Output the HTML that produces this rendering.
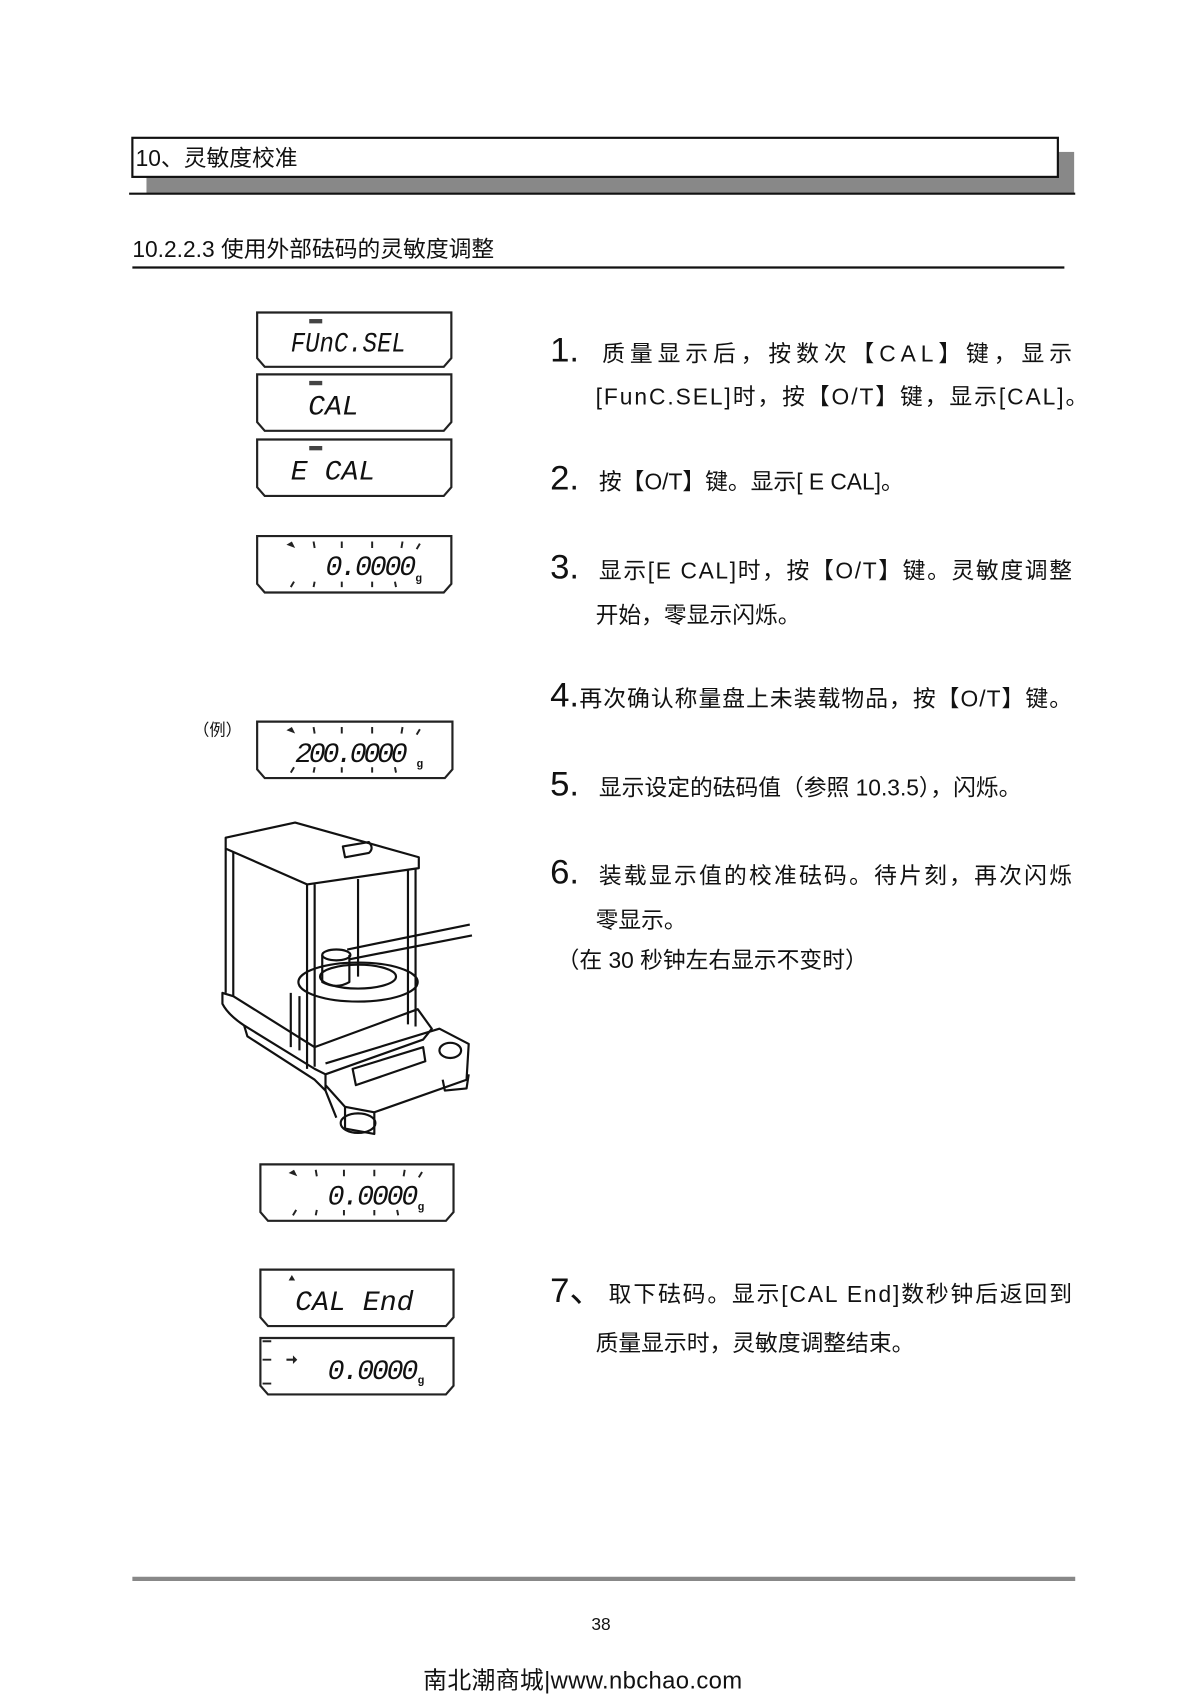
<!DOCTYPE html>
<html><head><meta charset="utf-8"><style>
html,body{margin:0;padding:0;background:#fff;}
svg{display:block;}
text{font-family:"Liberation Sans","Noto Sans CJK SC",sans-serif;fill:#111;}
.seg{font-family:"Liberation Mono",monospace;font-style:italic;}
</style></head><body>
<svg width="1200" height="1695" viewBox="0 0 1106 1562" preserveAspectRatio="none" xmlns="http://www.w3.org/2000/svg">
<!-- header -->
<rect x="135" y="140" width="855" height="38" fill="#888"/>
<rect x="122" y="127" width="853" height="36" fill="#fff" stroke="#111" stroke-width="2"/>
<text x="125" y="153" font-size="21">10、灵敏度校准</text>
<line x1="119" y1="178.5" x2="991" y2="178.5" stroke="#111" stroke-width="2"/>
<text x="122" y="237" font-size="21">10.2.2.3 使用外部砝码的灵敏度调整</text>
<line x1="122" y1="246.5" x2="981" y2="246.5" stroke="#111" stroke-width="2"/>

<!-- LCD boxes -->
<g fill="#fff" stroke="#222" stroke-width="2">
<path d="M237,288 H416 V330 L409,338 H244 L237,330 Z"/>
<path d="M237,345 H416 V389 L409,397 H244 L237,389 Z"/>
<path d="M237,405 H416 V449 L409,457 H244 L237,449 Z"/>
<path d="M237,494 H416 V538 L409,546 H244 L237,538 Z"/>
<path d="M237,665 H417 V709 L410,717 H244 L237,709 Z"/>
<path d="M240,1073 H418 V1117 L411,1125 H247 L240,1117 Z"/>
<path d="M240,1170 H418 V1214 L411,1222 H247 L240,1214 Z"/>
<path d="M240,1233 H418 V1277 L411,1285 H247 L240,1277 Z"/>
</g>
<g fill="#444"><rect x="285" y="294" width="12" height="4"/><rect x="285" y="351" width="12" height="4"/><rect x="285" y="411" width="12" height="4"/></g>
<text class="seg" x="268" y="324" font-size="26" transform="translate(268,0) scale(0.85,1) translate(-268,0)">FUnC.SEL</text>
<text class="seg" x="284" y="382" font-size="26">CAL</text>
<text class="seg" x="268" y="442" font-size="26">E CAL</text>
<text class="seg" x="300" y="530" font-size="26" letter-spacing="-2">0.0000</text>
<text x="383" y="536" font-size="10" font-weight="bold">g</text>
<text class="seg" x="272" y="702" font-size="26" letter-spacing="-3">200.0000</text>
<text x="384" y="707" font-size="10" font-weight="bold">g</text>
<text class="seg" x="302" y="1110" font-size="26" letter-spacing="-2">0.0000</text>
<text x="385" y="1115" font-size="10" font-weight="bold">g</text>
<text class="seg" x="272" y="1207" font-size="26">CAL End</text>
<text class="seg" x="302" y="1271" font-size="26" letter-spacing="-2">0.0000</text>
<text x="385" y="1275" font-size="10" font-weight="bold">g</text>
<g fill="#222"><path d="M264,502 l5,-3 l3,6 z"/><path d="M264,673 l5,-3 l3,6 z"/><path d="M266,1081 l5,-3 l3,6 z"/><path d="M266,1180 l3,-5 l3,5 z"/><path d="M264,1252 h6 v-3 l4,4 l-4,4 v-3 h-6 z"/></g>
<g stroke="#222" stroke-width="1.8">
<path d="M289,499 l1,6 M315,499 v6 M343,499 v6 M371,499 l-1,6 M387,501 l-3,5 M268,541 l3,-5 M289,541 l1,-5 M315,541 v-5 M343,541 v-5 M365,541 l-1,-5"/>
<path d="M289,670 l1,6 M315,670 v6 M343,670 v6 M371,670 l-1,6 M387,672 l-3,5 M268,712 l3,-5 M289,712 l1,-5 M315,712 v-5 M343,712 v-5 M365,712 l-1,-5"/>
<path d="M291,1078 l1,6 M317,1078 v6 M345,1078 v6 M373,1078 l-1,6 M389,1080 l-3,5 M270,1120 l3,-5 M291,1120 l1,-5 M317,1120 v-5 M345,1120 v-5 M367,1120 l-1,-5"/>
<path d="M242,1253 h8 M242,1275 h8 M242,1236 h8"/>
</g>
<text x="178" y="678" font-size="15">（例）</text>

<!-- balance drawing -->
<g fill="none" stroke="#111" stroke-width="2" stroke-linejoin="round">
<path d="M208,772 L272,758 L386,790 L386,800 L283,815 L208,782 Z"/>
<path d="M283,815 L283,985"/>
<path d="M290,815 L290,983"/>
<path d="M208,782 L208,915"/>
<path d="M215,785 L215,918"/>
<path d="M383,800 L383,946"/>
<path d="M376,801 L376,944"/>
<path d="M205,915 L205,925 Q210,935 225,945 L290,985 L300,990 L390,958 L398,948 L385,930 L290,965 L215,918 Z"/>
<path d="M225,945 L228,955 L290,995 L300,1005 L310,1030"/>
<path d="M300,990 L300,1005"/>
<path d="M300,980 L405,948 L432,962 L430,995 L345,1025 L318,1020 L300,1000"/>
<path d="M325,985 L390,965 L392,978 L328,1000 Z"/>
<path d="M318,1020 L318,1040 L345,1045 L345,1025"/>
<ellipse cx="330" cy="1035" rx="16" ry="9"/>
<ellipse cx="415" cy="968" rx="10" ry="7"/>
<path d="M408,995 L410,1005 L430,1003 L432,990"/>
<ellipse cx="330" cy="905" rx="55" ry="18"/>
<ellipse cx="330" cy="900" rx="35" ry="11"/>
<path d="M297,880 L297,905 Q310,912 322,905 L322,880"/>
<ellipse cx="310" cy="880" rx="13" ry="5"/>
<path d="M320,875 L433,852 M322,884 L435,862"/>
<path d="M268,915 L268,965 M276,918 L276,968"/>
<path d="M316,780 L340,776 Q345,782 340,786 L318,790 Z"/>
<path d="M330,810 L330,900"/>
</g>

<!-- steps -->
<g font-size="21">
<text x="507" y="333" font-size="32">1.</text>
<text x="555" y="333" textLength="433">质量显示后，按数次【CAL】键，显示</text>
<text x="549" y="373" textLength="454">[FunC.SEL]时，按【O/T】键，显示[CAL]。</text>
<text x="507" y="451" font-size="32">2.</text>
<text x="552" y="451">按【O/T】键。显示[ E CAL]。</text>
<text x="507" y="533" font-size="32">3.</text>
<text x="552" y="533" textLength="436">显示[E  CAL]时，按【O/T】键。灵敏度调整</text>
<text x="549" y="574">开始，零显示闪烁。</text>
<text x="507" y="651" font-size="32">4.</text>
<text x="534" y="651" textLength="454">再次确认称量盘上未装载物品，按【O/T】键。</text>
<text x="507" y="733" font-size="32">5.</text>
<text x="552" y="733">显示设定的砝码值（参照 10.3.5），闪烁。</text>
<text x="507" y="814" font-size="32">6.</text>
<text x="552" y="814" textLength="436">装载显示值的校准砝码。待片刻，再次闪烁</text>
<text x="549" y="855">零显示。</text>
<text x="513" y="892">（在 30 秒钟左右显示不变时）</text>
<text x="507" y="1200" font-size="32">7、</text>
<text x="561" y="1200" textLength="427">取下砝码。显示[CAL  End]数秒钟后返回到</text>
<text x="549" y="1245">质量显示时，灵敏度调整结束。</text>
</g>

<line x1="122" y1="1455" x2="991" y2="1455" stroke="#888" stroke-width="4"/>
<text x="545" y="1502" font-size="16">38</text>
<text x="390" y="1556" font-size="22" textLength="294">南北潮商城|www.nbchao.com</text>
</svg>
</body></html>
